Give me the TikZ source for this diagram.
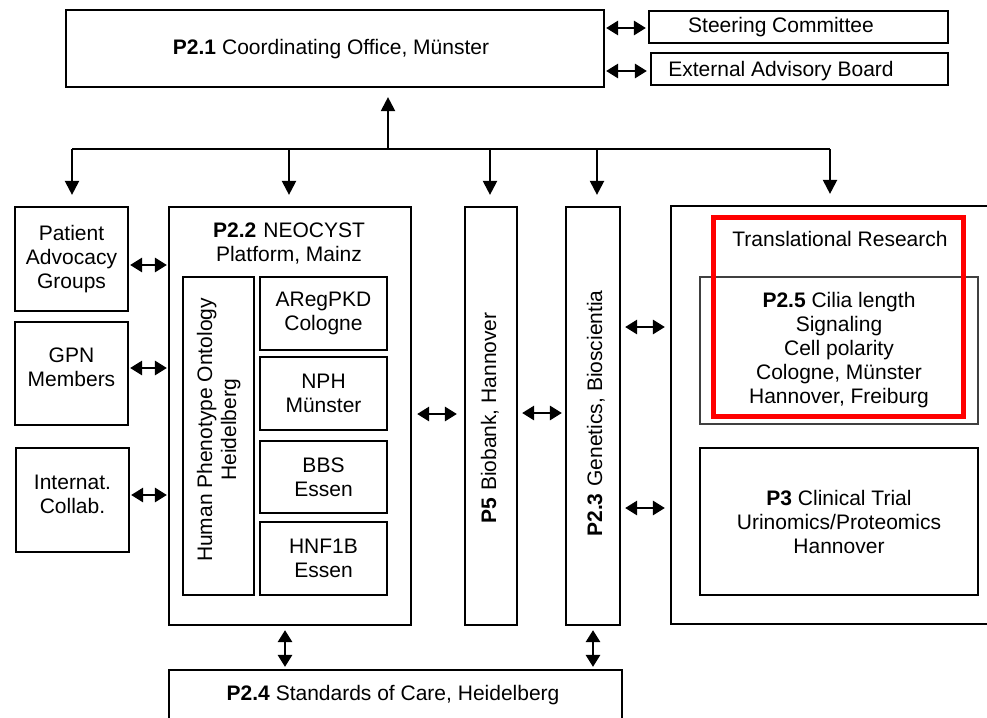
\documentclass[tikz,border=0pt]{standalone}
\usepackage{fontspec}
\setmainfont{Liberation Sans}
\usetikzlibrary{arrows.meta}
\begin{document}
\begin{tikzpicture}[x=1pt,y=-1pt,
  every node/.style={font=\fontsize{21}{24}\selectfont, inner sep=0pt},
  box/.style={draw, line width=2.2pt, rectangle, align=center},
  thinbox/.style={draw=black!75, line width=1.2pt, rectangle, align=center},
  txt/.style={align=center, anchor=base},
  dbl/.style={line width=2.8pt, {Triangle[length=12pt,width=14pt]}-{Triangle[length=12pt,width=14pt]}},
  down/.style={line width=2.2pt, -{Triangle[length=14pt,width=14pt]}}]
\useasboundingbox (0,0) rectangle (987,717);
\fill[white] (0,0) rectangle (987,717);

% top row
\node[box, minimum width=538pt, minimum height=77pt] (p21) at (335,48.5) {};
\node[txt] (p21t) at (331,55) {\textbf{P2.1}\hspace{6pt}Coordinating Office, Münster};
\node[box, minimum width=299pt, minimum height=32pt] (steer) at (798.5,27) {};
\node[txt] (steert) at (781,33) {Steering Committee};
\node[box, minimum width=297pt, minimum height=32pt] (ext) at (799.5,69) {};
\node[txt] (extt) at (781,77) {External Advisory Board};

% left column
\node[box, minimum width=113pt, minimum height=104pt] (patient) at (71.5,259) {Patient\\Advocacy\\Groups};
\node[box, minimum width=113pt, minimum height=103pt] (gpn) at (71.5,373.5) {};
\node[txt] (gpnt) at (71.5,386) {GPN\\Members};
\node[box, minimum width=113pt, minimum height=104pt] (intl) at (72.5,500) {};
\node[txt] (intlt) at (72.5,513) {Internat.\\Collab.};

% P2.2
\node[box, minimum width=242pt, minimum height=418pt] (p22) at (290,416) {};
\node[txt] (p22t) at (289,261) {\textbf{P2.2}\hspace{7pt}NEOCYST\\Platform, Mainz};
\node[box, minimum width=71pt, minimum height=318pt] (hpo) at (218.5,436) {};
\node[txt, rotate=90] (hpot) at (236,430) {Human Phenotype Ontology\\Heidelberg};
\node[box, minimum width=127pt, minimum height=73pt] (areg) at (323.5,313.5) {ARegPKD\\Cologne};
\node[box, minimum width=127pt, minimum height=73pt] (nph) at (323.5,393.5) {NPH\\Münster};
\node[box, minimum width=127pt, minimum height=72pt] (bbs) at (323.5,477) {BBS\\Essen};
\node[box, minimum width=127pt, minimum height=73pt] (hnf) at (323.5,558.5) {HNF1B\\Essen};

% P5, P2.3
\node[box, minimum width=52pt, minimum height=418pt] (p5) at (491,416) {};
\node[txt, rotate=90] (p5t) at (496,418) {\textbf{P5}\hspace{7pt}Biobank, Hannover};
\node[box, minimum width=54pt, minimum height=418pt] (p23) at (593,416) {};
\node[txt, rotate=90] (p23t) at (602,413.5) {\textbf{P2.3}\hspace{7pt}Genetics, Bioscientia};

% right block
\node[box, minimum width=319pt, minimum height=418pt] (tr) at (830.5,415) {};
\node[txt] (trt) at (840,246) {Translational Research};
\node[thinbox, minimum width=278pt, minimum height=147pt] (p25) at (839,350.5) {\textbf{P2.5} Cilia length\\Signaling\\Cell polarity\\Cologne, Münster\\Hannover, Freiburg};
\node[box, minimum width=278pt, minimum height=147pt] (p3) at (839,521.5) {\textbf{P3} Clinical Trial\\Urinomics/Proteomics\\Hannover};
\node[draw=red, line width=5pt, rectangle, minimum width=250pt, minimum height=199pt] (red) at (838,316.5) {};

% bottom
\node[box, minimum width=453pt, minimum height=56pt] (p24) at (395.5,698) {};
\node[txt] (p24t) at (393,700) {\textbf{P2.4}\hspace{6pt}Standards of Care, Heidelberg};

% bus
\coordinate (bus) at (388,149);
\coordinate (d1) at (72,149);
\coordinate (d2) at (289,149);
\coordinate (d3) at (490,149);
\coordinate (d4) at (597,149);
\coordinate (d5) at (830,149);
\draw[line width=2.2pt] (d1) -- (d5);
\draw[down, shorten >=9pt] (bus) -- (bus |- p21.south);
\foreach \d/\n in {d1/patient, d2/p22, d3/p5, d4/p23, d5/tr}
  \draw[down, shorten >=11pt] (\d) -- (\d |- \n.north);

% horizontal double arrows
\draw[dbl, shorten <=1pt, shorten >=2pt] (p21.east |- 0,28) -- (steer.west |- 0,28);
\draw[dbl, shorten <=1pt, shorten >=3pt] (p21.east |- 0,71) -- (ext.west |- 0,71);
\draw[dbl, shorten <=1pt, shorten >=1pt] (patient.east |- 0,265) -- (p22.west |- 0,265);
\draw[dbl, shorten <=1pt, shorten >=1pt] (gpn.east |- 0,368) -- (p22.west |- 0,368);
\draw[dbl, shorten <=1pt, shorten >=1pt] (intl.east |- 0,495) -- (p22.west |- 0,495);
\draw[dbl, shorten <=5pt, shorten >=7pt] (p22.east |- 0,414) -- (p5.west |- 0,414);
\draw[dbl, shorten <=4pt, shorten >=3pt] (p5.east |- 0,413) -- (p23.west |- 0,413);
\draw[dbl, shorten <=4pt, shorten >=5pt] (p23.east |- 0,327) -- (tr.west |- 0,327);
\draw[dbl, shorten <=4pt, shorten >=5pt] (p23.east |- 0,508) -- (tr.west |- 0,508);
% vertical double arrows
\draw[dbl, shorten <=4pt, shorten >=2pt] (285,0 |- p22.south) -- (285,0 |- p24.north);
\draw[dbl, shorten <=4pt, shorten >=2pt] (593,0 |- p23.south) -- (593,0 |- p24.north);
\end{tikzpicture}
\end{document}
